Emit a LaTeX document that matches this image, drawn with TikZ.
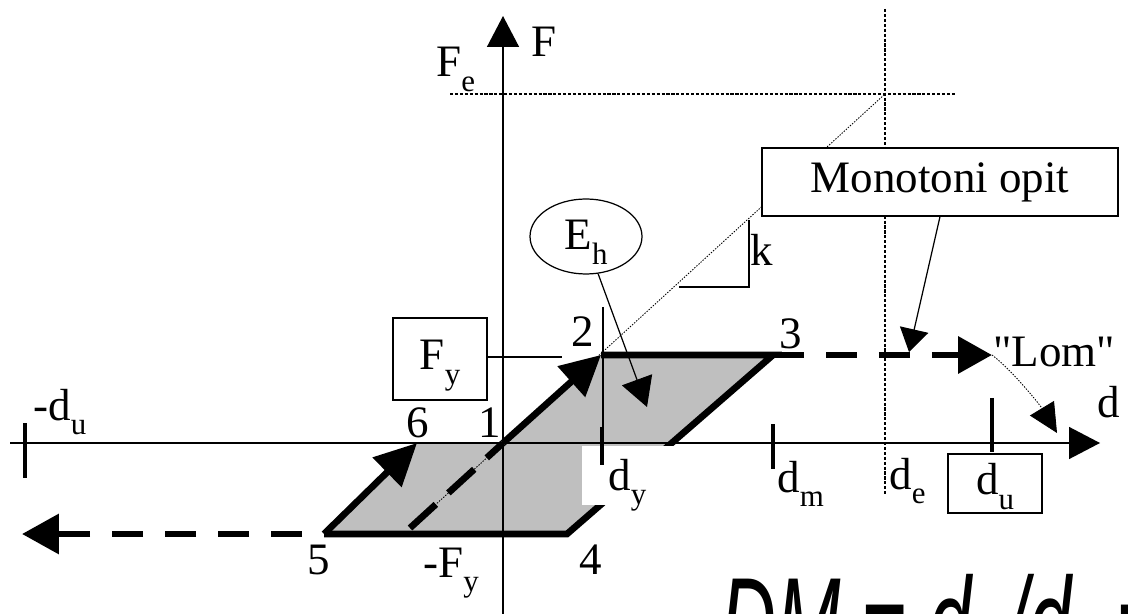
\documentclass[tikz,border=0pt]{standalone}
\usepackage{fontspec}
\setmainfont{Liberation Serif}
\newfontfamily\qfont{Liberation Serif}
\newfontfamily\eqfont{Liberation Sans}
\usetikzlibrary{arrows.meta, shapes.geometric, positioning}
\newcommand{\lsub}[1]{\raisebox{-0.3cm}{\fontsize{17.6}{18}\selectfont #1}}
\newcommand{\eqsub}[1]{\raisebox{-0.25cm}{\fontsize{24}{24}\selectfont #1}}

\begin{document}
\begin{tikzpicture}[
    x=0.02cm, y=-0.02cm,
    every node/.style={font=\fontsize{25.6}{30}\selectfont, inner sep=0pt},
    lbl/.style={anchor=base west},
    axisline/.style={draw, line width=0.8pt, -{Triangle[length=0.62cm, width=0.64cm]}},
    guide/.style={draw, line width=0.6pt, dash pattern=on 1.8pt off 1pt},
    fine/.style={draw, line width=0.5pt, dash pattern=on 0.8pt off 0.8pt},
    leader/.style={draw, line width=0.7pt},
    cycleline/.style={draw, line width=3.8pt},
    bigdash/.style={cycleline, dash pattern=on 0.62cm off 0.44cm},
    tickmark/.style={draw, line width=2.2pt},
    labelbox/.style={draw, rectangle, line width=0.7pt, fill=white, text height=0.8cm, text depth=0.36cm}
]
\useasboundingbox (0,0) rectangle (1128,614);

% Points of the loop
\coordinate (p1) at (503,443);
\coordinate (p2) at (601,355);
\coordinate (p3) at (773,355);
\coordinate (p4) at (567,534);
\coordinate (p5) at (324,534);
\coordinate (p6) at (417,443);
\coordinate (pe) at (885,94);
\coordinate (pk) at (410,528);

% Shaded loop
\fill[gray!50] (p5) -- (p6) -- (p1) -- (p2) -- (p3) -- (p4) -- cycle;

% Loop branches
\draw[cycleline] (p2) -- (p3) -- (p4) -- (p5);
\draw[cycleline, -{Triangle[length=0.8cm, width=0.8cm]}] (p1) -- (p2);
\draw[cycleline, -{Triangle[length=0.84cm, width=0.8cm]}] (p5) -- (p6);
\fill[white] (582,446) rectangle (677,505);

% Dashed continuations
\coordinate (lomtip) at (992,355);
\coordinate (lefttip) at (22,534);
\draw[bigdash, -{Triangle[length=0.68cm, width=0.72cm]}] (p3) -- (lomtip);
\draw[bigdash, dash phase=0.62cm, -{Triangle[length=0.74cm, width=0.78cm]}] (p5) -- (lefttip);
\draw[cycleline, dash pattern=on 0.7cm off 0.34cm] (pk) -- (p1);
\draw[fine] (pk) -- (pe);

% Axes
\coordinate (dstart) at (10,443);
\coordinate (dtip) at (1100,443);
\coordinate (fstart) at (503,614);
\coordinate (ftip) at (503,16);
\draw[axisline] (dstart) -- (dtip);
\draw[axisline] (fstart) -- (ftip);

% Guides for Fe and de
\coordinate (fe0) at (450,94);
\coordinate (fe1) at (955,94);
\coordinate (de0) at (885,9);
\coordinate (de1) at (885,495);
\draw[guide] (fe0) -- (fe1);
\draw[guide] (de0) -- (de1);

% Ticks
\draw[tickmark] (25,423) -- (25,478);
\draw[leader] (603,307) -- (603,443);
\draw[tickmark] (602,427) -- (602,465);
\draw[tickmark] (773,424) -- (773,469);
\draw[tickmark] (992,398) -- (992,452);

% Slope k
\draw[leader] (679,287) -- (749,287) -- (749,220);

% Boxes
\node[labelbox, minimum width=1.88cm, minimum height=1.64cm] (boxFy) at (440,359) {F\lsub{y}};
\coordinate (fyend) at (562,357);
\draw[leader] (boxFy.east |- fyend) -- (fyend);
\node[labelbox, minimum width=7.12cm, minimum height=1.36cm] (boxMono) at (940,182) {Monotoni opit};
\node[labelbox, minimum width=1.88cm, minimum height=1.18cm] (boxdu) at (995,483.5) {d\lsub{u}};
\node[draw, ellipse, line width=0.7pt, fill=white, minimum width=2.24cm, minimum height=1.5cm,
      text height=0.8cm, text depth=0.26cm] (ellEh) at (586,236.5) {E\lsub{h}};

% Pointers
\coordinate (monotip) at (909,352);
\coordinate (ehtip) at (647,407);
\coordinate (lomend) at (1057,433);
\draw[leader, -{Triangle[length=0.46cm, width=0.58cm]}] (boxMono.south) -- (monotip);
\draw[leader, -{Triangle[length=0.58cm, width=0.64cm]}] (ellEh.-72) -- (ehtip);
\draw[fine, -{Triangle[length=0.58cm, width=0.56cm]}] (lomtip) .. controls (1012,370) and (1040,405) .. (lomend);

% Labels
\node[lbl] (lblF) at (531,57) {F};
\node[lbl] (lblFe) at (436,77) {F\lsub{e}};
\node[lbl] (lblmdu) at (33,420) {-d\lsub{u}};
\node[lbl] (lbl6) at (406,438) {6};
\node[lbl] (lbl1) at (478,438) {1};
\node[lbl] (lbl2) at (571,347) {2};
\node[lbl] (lbl3) at (779,349) {3};
\node[lbl] (lbl5) at (307,574) {5};
\node[lbl] (lblmFy) at (423,577) {-F\lsub{y}};
\node[lbl] (lbl4) at (579,574) {4};
\node[lbl] (lbldy) at (608,490) {d\lsub{y}};
\node[lbl] (lbldm) at (777,492) {d\lsub{m}};
\node[lbl] (lblde) at (889,489) {d\lsub{e}};
\node[lbl] (lbld) at (1097,418) {d};
\node[lbl] (lblLom) at (993,367) {\qfont "Lom"};
\node[lbl] (lblk) at (750,266) {k};
\node[lbl, font=\eqfont\itshape\fontsize{44}{50}\selectfont] (eqDM) at (720,669)
    {\scalebox{1}[1.7]{DM = d\eqsub{m}/d\eqsub{u} =}};

\end{tikzpicture}
\end{document}
